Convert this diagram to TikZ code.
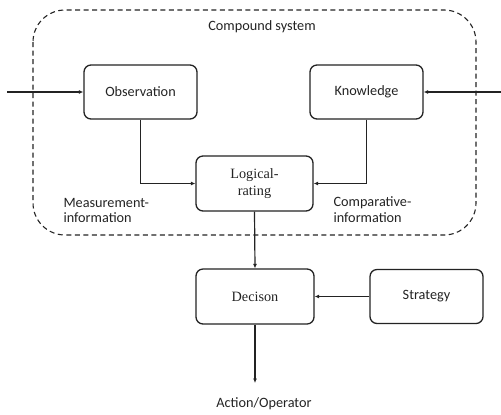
\documentclass[tikz,border=0pt]{standalone}
\usepackage{fontspec}
\setmainfont{Carlito}
\newfontfamily\serifbox{Liberation Serif}
\usetikzlibrary{arrows.meta, positioning}
\definecolor{Ink}{RGB}{35, 35, 35}

\begin{document}
\begin{tikzpicture}[x=1bp, y=-1bp,
    font=\fontsize{14.3}{16}\selectfont, text=Ink,
    block/.style={draw=Ink, line width=1.3pt, rounded corners=7bp,
        minimum width=113bp, minimum height=54bp, align=center},
    flow/.style={draw=Ink, line width=1.2pt, -{Latex[length=4.5pt, width=4pt]}}]
    \useasboundingbox (0,0) rectangle (501,414);

    % Compound system frame
    \draw[Ink, line width=1.1pt, dash pattern=on 5bp off 3.5bp, rounded corners=32bp]
        (33,10) rectangle (476,235);
    \node (title) at (262,27) {Compound system};

    % Blocks
    \node[block] (obs) at (140.5,92) {Observation};
    \node[block] (know) at (366.5,92) {Knowledge};
    \node[block, minimum width=117bp, minimum height=55bp, font=\serifbox\fontsize{14.3}{17}\selectfont]
        (rate) at (254.5,183.5) {Logical-\\rating};
    \node[block, minimum width=118bp, minimum height=55bp, font=\serifbox\fontsize{14.3}{17}\selectfont]
        (dec) at (255,296.5) {Decison};
    \node[block] (strat) at (426.5,296.5) {Strategy};

    % Labels
    \node[align=left, anchor=west] (meas) at (60,210.5) {Measurement-\\information};
    \node[align=left, anchor=west] (comp) at (330,209.5) {Comparative-\\information};
    \node (act) at (264,404) {Action/Operator};

    % Free ends
    \coordinate (inL) at (7,92);
    \coordinate (inR) at (501,92);
    \coordinate (outD) at (dec.south |- 0,383);

    % Connectors
    \draw[flow] (inL) -- (obs.west);
    \draw[flow] (inR) -- (know.east);
    \draw[flow] (obs.south) |- (rate.west);
    \draw[flow] (know.south) |- (rate.east);
    \draw[flow] (rate.south) -- (dec.north);
    \draw[flow] (strat.west) -- (dec.east);
    \draw[flow] (dec.south) -- (outD);
\end{tikzpicture}
\end{document}
